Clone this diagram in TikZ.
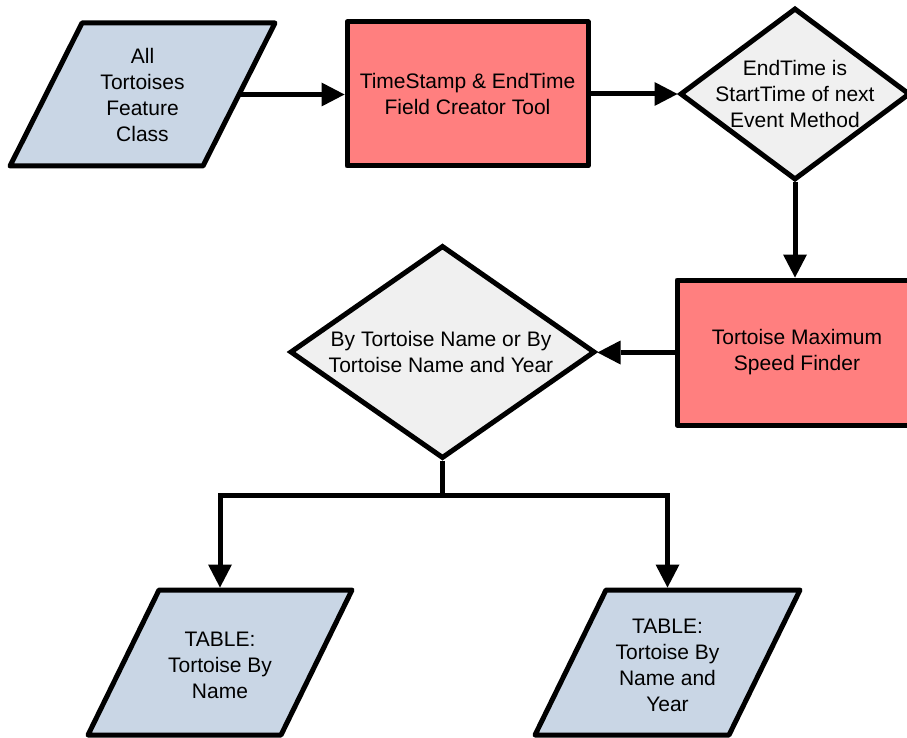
\documentclass[tikz,border=0pt]{standalone}
\usepackage{fontspec}
\setmainfont{Liberation Sans}
\usetikzlibrary{arrows.meta,shapes.geometric,backgrounds,calc}

\definecolor{dataBlue}{HTML}{C9D6E5}
\definecolor{toolRed}{HTML}{FF7F7F}
\definecolor{choiceGrey}{HTML}{F0F0F0}

\tikzset{
  every node/.style={font=\fontsize{21}{26}\selectfont, align=center},
  shapeline/.style={draw=black, line width=5pt},
  toolbox/.style={shapeline, line join=round, fill=toolRed, rectangle, inner sep=0pt},
  choice/.style={shapeline, line join=miter, fill=choiceGrey, diamond, inner sep=0pt},
  % invisible frame that carries the text of a data parallelogram
  iobox/.style={rectangle, inner sep=0pt, outer sep=0pt},
  iofill/.style={shapeline, line join=round, fill=dataBlue},
  nodetext/.style={inner sep=0pt},
  conn/.style={line width=5pt},
  flow/.style={conn, -{Triangle[length=23pt,width=24pt,line width=0pt]}},
}

\begin{document}
\begin{tikzpicture}[x=1pt,y=-1pt]
\useasboundingbox (0,0) rectangle (907,738);
\clip (0,0) rectangle (907,738);

% ---- input data -------------------------------------------------------
\node[iobox, minimum width=265pt, minimum height=143pt] (src) at (142.5,94.5)
  {All\\Tortoises\\Feature\\Class};

% ---- processing tools and decisions ---------------------------------
\node[toolbox, minimum width=241pt, minimum height=144pt] (tool) at (467.5,94)
  {TimeStamp \& EndTime\\Field Creator Tool};

\node[choice, minimum width=230pt, minimum height=172pt] (dec1) at (795,94) {};
\node[nodetext] (dec1-text) at (dec1.center)
  {EndTime is\\StartTime of next\\Event Method};

\node[toolbox, minimum width=240pt, minimum height=145pt] (speed) at (797,352.5)
  {Tortoise Maximum\\Speed Finder};

\node[choice, minimum width=305pt, minimum height=213pt] (dec2) at (442.5,352) {};
\node[nodetext] (dec2-text) at (441,352)
  {By Tortoise Name or By\\Tortoise Name and Year};

% ---- output tables (text sits 3pt below the outline's middle) -------
\node[iobox, minimum width=264pt, minimum height=145pt] (out1) at (220,665.5)
  {TABLE:\\Tortoise By\\Name};
\node[iobox, minimum width=265pt, minimum height=145pt] (out2) at (667.5,665.5)
  {TABLE:\\Tortoise By\\Name and\\Year};

% ---- parallelogram outlines behind the data texts ---------------------
\begin{scope}[on background layer]
  \draw[iofill] ([xshift=72pt]src.north west) -- (src.north east)
    -- ([xshift=-72pt]src.south east) -- (src.south west) -- cycle;
  \draw[iofill] ([xshift=71pt,yshift=3pt]out1.north west) -- ([yshift=3pt]out1.north east)
    -- ([xshift=-71pt,yshift=3pt]out1.south east) -- ([yshift=3pt]out1.south west) -- cycle;
  \draw[iofill] ([xshift=71pt,yshift=3pt]out2.north west) -- ([yshift=3pt]out2.north east)
    -- ([xshift=-71pt,yshift=3pt]out2.south east) -- ([yshift=3pt]out2.south west) -- cycle;
\end{scope}

% ---- connectors -------------------------------------------------------
\coordinate (src-out) at ([xshift=-36pt]src.east);
\draw[flow] (src-out) -- (src-out -| tool.west);
\draw[flow] (tool.east) -- (tool.east -| dec1.west);
\draw[flow] (dec1.south) -- (dec1.south |- speed.north);
\draw[flow] (speed.west) -- (speed.west -| dec2.east);

\coordinate (split) at ([yshift=-34pt]dec2.south);
\draw[conn] (dec2.south) -- (split);
\draw[flow, shorten >=5.5pt] (split) -| (out1.north);
\draw[flow, shorten >=5.5pt] (split) -| (out2.north);
\end{tikzpicture}
\end{document}
